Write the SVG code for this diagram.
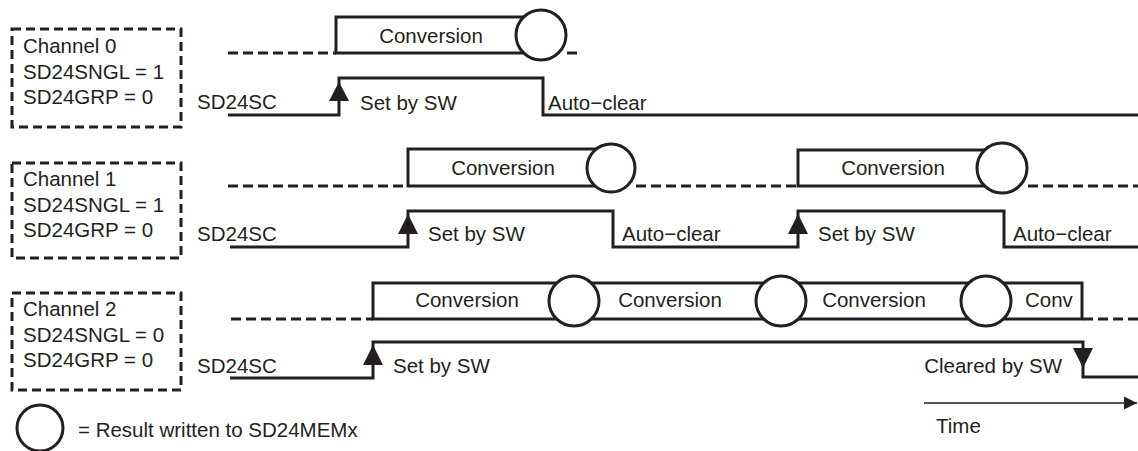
<svg xmlns="http://www.w3.org/2000/svg" width="1138" height="451" viewBox="0 0 1138 451">
<defs>
<style>
.t{font-family:"Liberation Sans",Arial,sans-serif;font-size:20.5px;fill:#231f20}
.box{fill:none;stroke:#231f20;stroke-width:3;stroke-dasharray:9 5}
.dash{fill:none;stroke:#231f20;stroke-width:3;stroke-dasharray:10 5}
.sig{fill:none;stroke:#231f20;stroke-width:3}
.circ{fill:#fff;stroke:#231f20;stroke-width:3}
.arr{fill:#231f20}
</style>
<marker id="ah" viewBox="0 0 10 10" refX="10" refY="5" markerWidth="13" markerHeight="14" markerUnits="userSpaceOnUse" orient="auto">
<path d="M0,0 L10,5 L0,10 z" fill="#231f20"/>
</marker>
</defs>
<rect width="1138" height="451" fill="#fff"/>

<g id="channel0">
<rect class="box" x="12" y="29" width="169" height="98"/>
<text class="t" x="23" y="53">Channel 0</text>
<text class="t" x="23" y="79">SD24SNGL = 1</text>
<text class="t" x="23" y="104">SD24GRP = 0</text>
</g>
<g id="channel1">
<rect class="box" x="12" y="163" width="169" height="95"/>
<text class="t" x="23" y="186">Channel 1</text>
<text class="t" x="23" y="212">SD24SNGL = 1</text>
<text class="t" x="23" y="237">SD24GRP = 0</text>
</g>
<g id="channel2">
<rect class="box" x="12" y="293" width="169" height="97"/>
<text class="t" x="23" y="316">Channel 2</text>
<text class="t" x="23" y="342">SD24SNGL = 0</text>
<text class="t" x="23" y="367">SD24GRP = 0</text>
</g>

<g id="row0">
<path class="dash" d="M228 53 H336"/>
<path class="sig" d="M541 53 H336 V17 H541"/>
<circle class="circ" cx="541" cy="35" r="25"/>
<path class="dash" d="M567 53 H582"/>
<text class="t" x="431" y="43" text-anchor="middle">Conversion</text>
<text class="t" x="197" y="109">SD24SC</text>
<text class="t" x="360" y="110">Set by SW</text>
<text class="t" x="548" y="110">Auto−clear</text>
</g>

<g id="row1">
<path class="dash" d="M228 186 H408"/>
<path class="sig" d="M611 186 H408 V149 H611"/>
<circle class="circ" cx="611" cy="168" r="24"/>
<path class="dash" d="M636 186 H798"/>
<path class="sig" d="M1002 186 H798 V150 H1002"/>
<circle class="circ" cx="1002" cy="168" r="25"/>
<path class="dash" d="M1028 186 H1138"/>
<text class="t" x="503" y="175" text-anchor="middle">Conversion</text>
<text class="t" x="893" y="175" text-anchor="middle">Conversion</text>
<text class="t" x="197" y="241">SD24SC</text>
<text class="t" x="428" y="241">Set by SW</text>
<text class="t" x="622" y="241">Auto−clear</text>
<text class="t" x="818" y="241">Set by SW</text>
<text class="t" x="1013" y="241">Auto−clear</text>
</g>

<g id="row2">
<path class="dash" d="M231 319 H373"/>
<rect class="sig" x="373" y="283" width="709" height="36"/>
<circle class="circ" cx="574" cy="301" r="25"/>
<circle class="circ" cx="781" cy="301" r="25"/>
<circle class="circ" cx="986" cy="301" r="25"/>
<path class="dash" d="M1083 319 H1138"/>
<text class="t" x="467" y="307" text-anchor="middle">Conversion</text>
<text class="t" x="670" y="307" text-anchor="middle">Conversion</text>
<text class="t" x="874" y="307" text-anchor="middle">Conversion</text>
<text class="t" x="1025" y="307">Conv</text>
<text class="t" x="197" y="373">SD24SC</text>
<text class="t" x="393" y="373">Set by SW</text>
<text class="t" x="1062" y="373" text-anchor="end">Cleared by SW</text>
</g>

<g id="connectors">
<path class="sig" d="M228 115 H339 V78 H543 V115 H1138"/>
<polygon class="arr" points="339,82 329,101 349,101"/>
<path class="sig" d="M230 247 H408 V211 H613 V247 H798 V211 H1004 V247 H1138"/>
<polygon class="arr" points="408,214 398,234 418,234"/>
<polygon class="arr" points="798,214 788,234 808,234"/>
<path class="sig" d="M230 378 H373 V342 H1083 V377 H1138"/>
<polygon class="arr" points="373,345 363,365 383,365"/>
<polygon class="arr" points="1083,368 1073,348 1093,348"/>
<path d="M924 403 H1137" stroke="#231f20" stroke-width="1.5" fill="none" marker-end="url(#ah)"/>
</g>

<g id="legend">
<circle cx="40" cy="428" r="23" fill="#fff" stroke="#231f20" stroke-width="3"/>
<text class="t" x="78" y="437">= Result written to SD24MEMx</text>
<text class="t" x="936" y="433">Time</text>
</g>
</svg>
